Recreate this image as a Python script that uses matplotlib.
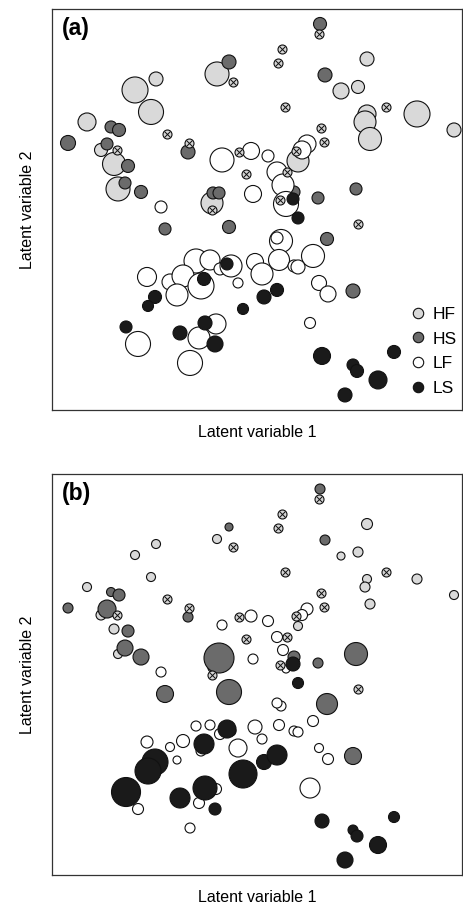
import matplotlib
matplotlib.use("Agg")
import matplotlib.pyplot as plt
import numpy as np

plt.rcParams["font.family"] = ["Liberation Sans", "DejaVu Sans"]

# ordination scores (same site positions in both panels)
hf_lv1 = [-0.40, -1.01, -1.22, -1.06, -1.70, -1.56, -1.43, -1.39, -0.45, 0.41,
          1.10, 0.84, 1.01, 1.60, 1.10, 1.08, 1.13, 1.97]
hf_lv2 = [1.36, 1.31, 1.20, 0.98, 0.88, 0.60, 0.46, 0.21, 0.07, 0.49,
          1.51, 1.19, 1.23, 0.96, 0.96, 0.88, 0.71, 0.80]
hf_size_a = [12, 7, 13, 12.5, 9, 6.5, 11.5, 12, 11, 11, 7, 8, 6.5, 13, 9, 11, 11.5, 7]
hf_size_b = [4.5, 4.5, 4.5, 4.5, 4.5, 5, 5, 4.5, 4, 4.5, 5.5, 4, 5, 5, 4.5, 5, 5, 4.5]

hs_lv1 = [-0.28, -1.46, -1.38, -0.69, -1.89, -1.50, -1.29, -1.32, -1.16, -0.44,
          -0.38, 0.63, 0.68, 0.37, 0.61, 0.99, -0.92, -0.28, 0.70, 0.96]
hs_lv2 = [1.48, 0.83, 0.80, 0.58, 0.67, 0.66, 0.44, 0.27, 0.18, 0.17,
          0.17, 1.86, 1.35, 0.18, 0.12, 0.21, -0.19, -0.17, -0.29, -0.81]
hs_size_a = [7, 6, 6.5, 7, 7.5, 6, 6.5, 6, 6.5, 6, 6, 6.5, 7, 6, 6, 6, 6, 6.5, 6.5, 7]
hs_size_b = [4, 4.5, 6, 5, 5, 9, 6, 8, 8, 5, 15, 5, 5, 6, 5, 11.5, 8.5, 12.5, 10.5, 8.5]

lf_lv1 = [-0.35, -0.06, -0.04, -0.96, 0.11, 0.50, 0.45, 0.20, 0.26, 0.29,
          0.24, -0.61, -0.47, -0.37, -0.26, -0.02, 0.05, 0.22, 0.56, 0.37,
          0.41, 0.62, 0.71, 0.53, -1.10, -0.87, -0.74, -0.80, -0.56, -0.19,
          -1.19, -0.58, -0.41, -0.67, 0.20]
lf_lv2 = [0.50, 0.59, 0.16, 0.03, 0.54, 0.66, 0.60, 0.38, 0.25, 0.06,
          -0.31, -0.51, -0.50, -0.59, -0.56, -0.52, -0.64, -0.50, -0.46, -0.56,
          -0.57, -0.73, -0.84, -1.13, -0.67, -0.72, -0.66, -0.85, -0.76, -0.73,
          -1.34, -1.28, -1.14, -1.53, -0.28]
lf_size_a = [12, 8.5, 8.5, 6, 6, 9, 9, 10, 11, 12.5, 11.5, 12, 10, 6, 11, 8.5, 11,
             10.5, 11.5, 6, 7, 7.5, 8, 5.5, 9.5, 8, 11, 11, 13, 5, 12.5, 11, 10, 12.5, 6]
lf_size_b = [5, 6, 5, 5, 5.5, 6, 5.5, 5.5, 5.5, 4, 5, 5, 5, 5.5, 5, 7, 5, 5.5, 5.5,
             5, 5, 4.5, 5.5, 10, 6, 4.5, 6.5, 4, 5, 9, 5.5, 5.5, 5.5, 5, 5]

ls_lv1 = [0.36, 0.41, -0.30, -0.53, 0.07, 0.20, -1.02, -1.09, -0.14, -1.31,
          -0.77, -0.52, -0.42, 0.65, 1.37, 0.96, 1.00, 1.21, 0.88]
ls_lv2 = [0.11, -0.08, -0.54, -0.69, -0.87, -0.80, -0.87, -0.96, -0.99, -1.17,
          -1.23, -1.13, -1.34, -1.46, -1.42, -1.55, -1.61, -1.70, -1.85]
ls_size_a = [6, 6, 6, 6.5, 7, 6.5, 6.5, 5.5, 5.5, 6, 7, 7, 8, 8.5, 6.5, 6, 6.5, 9, 7]
ls_size_b = [7, 5.5, 9, 10, 7.5, 10, 13, 13, 14, 14.5, 10, 12, 6, 7, 5.5, 5, 6, 8.5, 8]

# sites without a class (crossed symbols)
na_lv1 = [-0.24, -0.90, -0.68, -1.40, -0.18, -0.11, -0.45, 0.64, 0.67, 0.39,
          0.30, 0.23, 0.62, 0.25, 0.21, 0.28, 1.29, 1.01]
na_lv2 = [1.28, 0.76, 0.67, 0.60, 0.58, 0.36, 0.00, 0.82, 0.68, 0.59,
          0.38, 0.10, 1.76, 1.61, 1.47, 1.03, 1.03, -0.14]

groups = [
    ("HF", "#d9d9d9", hf_lv1, hf_lv2, hf_size_a, hf_size_b),
    ("HS", "#6b6b6b", hs_lv1, hs_lv2, hs_size_a, hs_size_b),
    ("LF", "white", lf_lv1, lf_lv2, lf_size_a, lf_size_b),
    ("LS", "#1a1a1a", ls_lv1, ls_lv2, ls_size_a, ls_size_b),
]


def area(r):
    # radius value -> scatter area in points^2
    return (1.44 * np.asarray(r)) ** 2


def draw_panel(ax, panel, label, legend=False):
    for name, col, x, y, sa, sb in groups:
        sizes = sa if panel == 0 else sb
        ax.scatter(x, y, s=area(sizes), c=col, edgecolors="#111111",
                   linewidths=0.8, zorder=2)
    ax.scatter(na_lv1, na_lv2, s=area(4.5), c="#d4d4d4", edgecolors="#111111",
               linewidths=0.8, zorder=3)
    ax.scatter(na_lv1, na_lv2, s=area(4.5) * 0.42, marker="x", c="#111111",
               linewidths=0.7, zorder=4)

    if legend:
        handles = [plt.Line2D([], [], ls="none", marker="o", ms=7.5, mfc=col,
                              mec="#111111", mew=0.8)
                   for name, col, *_ in groups]
        ax.legend(handles, [g[0] for g in groups], loc="lower right",
                  bbox_to_anchor=(1.0, 0.022), frameon=False, fontsize=12.5,
                  handletextpad=0.35, labelspacing=0.55, borderpad=0,
                  borderaxespad=0.3, handlelength=1.0)

    ax.set_xlim(-2.05, 2.05)
    ax.set_ylim(-2.0, 2.01)
    ax.set_xticks([])
    ax.set_yticks([])
    for sp in ax.spines.values():
        sp.set_color("#333333")
        sp.set_linewidth(0.9)
    ax.set_xlabel("Latent variable 1", fontsize=11.5, labelpad=11)
    ax.set_ylabel("Latent variable 2", fontsize=11.5, labelpad=12)
    ax.text(0.025, 0.98, label, transform=ax.transAxes, ha="left", va="top",
            fontsize=16.5, fontweight="bold")


fig = plt.figure(figsize=(4.64, 9.06), dpi=100)
ax1 = fig.add_axes([0.1121, 0.5475, 0.8836, 0.4426])
ax2 = fig.add_axes([0.1121, 0.0342, 0.8836, 0.4426])

draw_panel(ax1, 0, "(a)", legend=True)
draw_panel(ax2, 1, "(b)")

fig.savefig("out.png", dpi=100)
